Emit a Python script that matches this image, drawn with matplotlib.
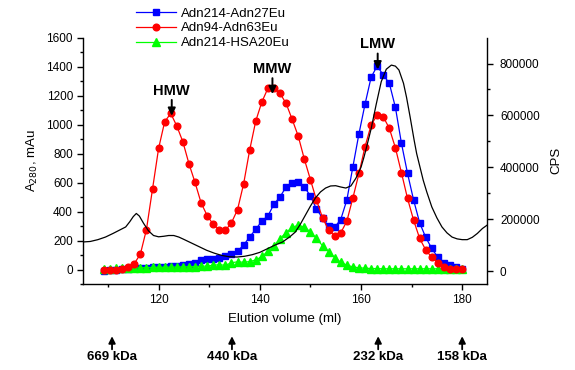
import matplotlib
matplotlib.use("Agg")
import matplotlib.pyplot as plt
from matplotlib.ticker import MultipleLocator, FixedLocator

plt.rcParams['font.family'] = ['Liberation Sans', 'DejaVu Sans']

# Elution volume (ml) of each collected fraction
elution_ml = [109.2, 110.4, 111.6, 112.8, 114.0, 115.2, 116.4, 117.6, 118.8, 120.0,
              121.2, 122.4, 123.6, 124.8, 126.0, 127.2, 128.4, 129.6, 130.8, 132.0,
              133.2, 134.4, 135.6, 136.8, 138.0, 139.2, 140.4, 141.6, 142.8, 144.0,
              145.2, 146.4, 147.6, 148.8, 150.0, 151.2, 152.4, 153.6, 154.8, 156.0,
              157.2, 158.4, 159.6, 160.8, 162.0, 163.2, 164.4, 165.6, 166.8, 168.0,
              169.2, 170.4, 171.6, 172.8, 174.0, 175.2, 176.4, 177.6, 178.8, 180.0]

adn214_adn27eu = [-8, -3, 0, 3, 5, 8, 10, 12, 14, 16,
                  18, 21, 25, 30, 38, 45, 66, 70, 75, 82,
                  95, 106, 126, 168, 225, 277, 334, 369, 451, 501,
                  570, 600, 605, 570, 508, 418, 355, 299, 292, 345,
                  479, 709, 937, 1141, 1326, 1404, 1342, 1285, 1119, 870,
                  663, 479, 322, 221, 145, 83, 48, 34, 18, 7]

adn94_adn63eu = [-5, -5, -3, 3, 18, 41, 106, 276, 555, 835,
                 1019, 1077, 990, 881, 730, 601, 460, 372, 311, 276,
                 270, 322, 413, 590, 824, 1024, 1155, 1250, 1250, 1215,
                 1146, 1036, 920, 762, 621, 479, 357, 271, 232, 253,
                 333, 494, 663, 847, 997, 1066, 1054, 974, 840, 667,
                 490, 340, 214, 135, 83, 47, 20, 7, 7, 2]

adn214_hsa20eu = [2, 5, 8, 10, 12, 12, 12, 13, 14, 15,
                  15, 16, 17, 18, 19, 20, 22, 24, 30, 33,
                  29, 47, 53, 50, 55, 66, 90, 125, 165, 212,
                  255, 290, 306, 292, 260, 214, 164, 124, 82, 50,
                  30, 18, 12, 9, 7, 6, 5, 5, 5, 5,
                  5, 5, 5, 5, 5, 5, 5, 5, 5, 5]

# Europium fluorescence trace (CPS, right axis)
cps_ml = [105.0, 106.5, 108.0, 109.5, 111.0, 112.5, 113.5, 114.3, 115.0, 115.6,
          116.2, 117.0, 118.0, 119.0, 120.0, 121.0, 122.0, 123.0, 124.0, 125.0,
          126.5, 128.0, 129.5, 131.0, 132.5, 134.0, 135.5, 137.0, 138.5, 140.0,
          141.5, 143.0, 144.5, 146.0, 147.0, 148.0, 149.0, 150.0, 151.0, 152.0,
          153.0, 154.0, 155.0, 156.0, 157.0, 158.0, 159.0, 160.0, 160.6, 161.0,
          162.0, 163.0, 164.0, 165.0, 166.0, 166.8, 167.5, 168.4, 169.0, 169.7,
          170.5, 171.0, 172.3, 173.0, 174.0, 175.0, 176.0, 177.0, 178.0, 179.0,
          180.0, 181.0, 182.0, 183.0, 184.0, 185.0]
cps = [112000, 114000, 121000, 131000, 145000, 160000, 170000, 190000, 210000, 222000,
       212000, 185000, 155000, 137000, 132000, 134000, 137000, 137000, 131000, 122000,
       108000, 94000, 80000, 69000, 60000, 55000, 54000, 57000, 63000, 72000,
       86000, 100000, 112000, 133000, 150000, 180000, 215000, 250000, 282000, 305000,
       320000, 328000, 329000, 324000, 320000, 328000, 358000, 400000, 440000, 470000,
       548000, 642000, 730000, 778000, 794000, 790000, 775000, 724000, 670000, 595000,
       505000, 453000, 350000, 305000, 247000, 205000, 170000, 147000, 131000, 124000,
       121000, 121000, 130000, 145000, 164000, 178000]

peak_labels = ["HMW", "MMW", "LMW"]
peak_ml = [122.6, 142.5, 163.3]
peak_tip = [1060, 1210, 1380]

standards = ["669 kDa", "440 kDa", "232 kDa", "158 kDa"]
standard_ml = [110.8, 134.5, 163.4, 180.0]

fig = plt.figure(figsize=(5.75, 3.7), dpi=100)
ax = fig.add_axes([0.1438, 0.2324, 0.704, 0.666])
ax2 = ax.twinx()

lb, = ax.plot(elution_ml, adn214_adn27eu, '-s', color='#0000ff', lw=0.9, ms=4.4,
              mec='#0000ff', label='Adn214-Adn27Eu', zorder=3)
lr, = ax.plot(elution_ml, adn94_adn63eu, '-o', color='#ff0000', lw=0.9, ms=4.8,
              mec='#ff0000', label='Adn94-Adn63Eu', zorder=4)
lg, = ax.plot(elution_ml, adn214_hsa20eu, '-^', color='#00ff00', lw=0.9, ms=5.2,
              mec='#00ff00', label='Adn214-HSA20Eu', zorder=3)
ax2.plot(cps_ml, cps, '-', color='black', lw=0.9)

ax.set_xlim(105, 185)
ax.set_ylim(-100, 1600)
ax2.set_ylim(-50000, 900000)

ax.xaxis.set_major_locator(FixedLocator([120, 140, 160, 180]))
ax.xaxis.set_minor_locator(FixedLocator([110, 130, 150, 170]))
ax.yaxis.set_major_locator(MultipleLocator(200))
ax.yaxis.set_minor_locator(MultipleLocator(100))
ax.set_yticks([0, 200, 400, 600, 800, 1000, 1200, 1400, 1600])
ax2.set_yticks([0, 200000, 400000, 600000, 800000])
ax2.yaxis.set_minor_locator(FixedLocator([100000, 300000, 500000, 700000]))

for a in (ax, ax2):
    a.spines['top'].set_visible(False)
    for s in a.spines.values():
        s.set_linewidth(1.0)
    a.tick_params(which='major', direction='out', length=4, width=1, labelsize=8.5, colors='black')
    a.tick_params(which='minor', direction='out', length=2.5, width=1)
ax2.spines['left'].set_visible(False)
ax2.spines['bottom'].set_visible(False)
ax.spines['right'].set_visible(False)
ax.tick_params(axis='y', pad=3)
ax.tick_params(axis='x', pad=3)
ax2.tick_params(axis='y', pad=5)

ax.set_xlabel('Elution volume (ml)', fontsize=9.5, labelpad=5)
ax.set_ylabel('A$_{280}$, mAu', fontsize=9.5, labelpad=5)
ax2.set_ylabel('CPS', fontsize=9.5, labelpad=8)

for lab, xm, tip in zip(peak_labels, peak_ml, peak_tip):
    ax.annotate('', xy=(xm, tip), xytext=(xm, tip + 110),
                arrowprops=dict(arrowstyle='-|>,head_length=0.45,head_width=0.22',
                                color='black', lw=1.4, shrinkA=0, shrinkB=0), zorder=6)
    ax.text(xm, tip + 125, lab, ha='center', va='bottom', fontsize=10.5,
            fontweight='bold', zorder=6)

xt = ax.get_xaxis_transform()
for lab, xm in zip(standards, standard_ml):
    ax.annotate('', xy=(xm, -0.212), xycoords=xt, xytext=(xm, -0.265), textcoords=xt,
                arrowprops=dict(arrowstyle='-|>,head_length=0.4,head_width=0.2',
                                color='black', lw=1.3, shrinkA=0, shrinkB=0),
                annotation_clip=False)
    ax.text(xm, -0.295, lab, transform=xt, ha='center', va='center',
            fontsize=9.5, fontweight='bold', clip_on=False)

fig.legend(handles=[lb, lr, lg], loc='upper left', bbox_to_anchor=(135 / 575, 1 - 6 / 370),
           frameon=False, fontsize=9.5, handlelength=3.0, handletextpad=0.35,
           labelspacing=0.2, borderpad=0.1, borderaxespad=0)

fig.savefig('out.png', dpi=100)
